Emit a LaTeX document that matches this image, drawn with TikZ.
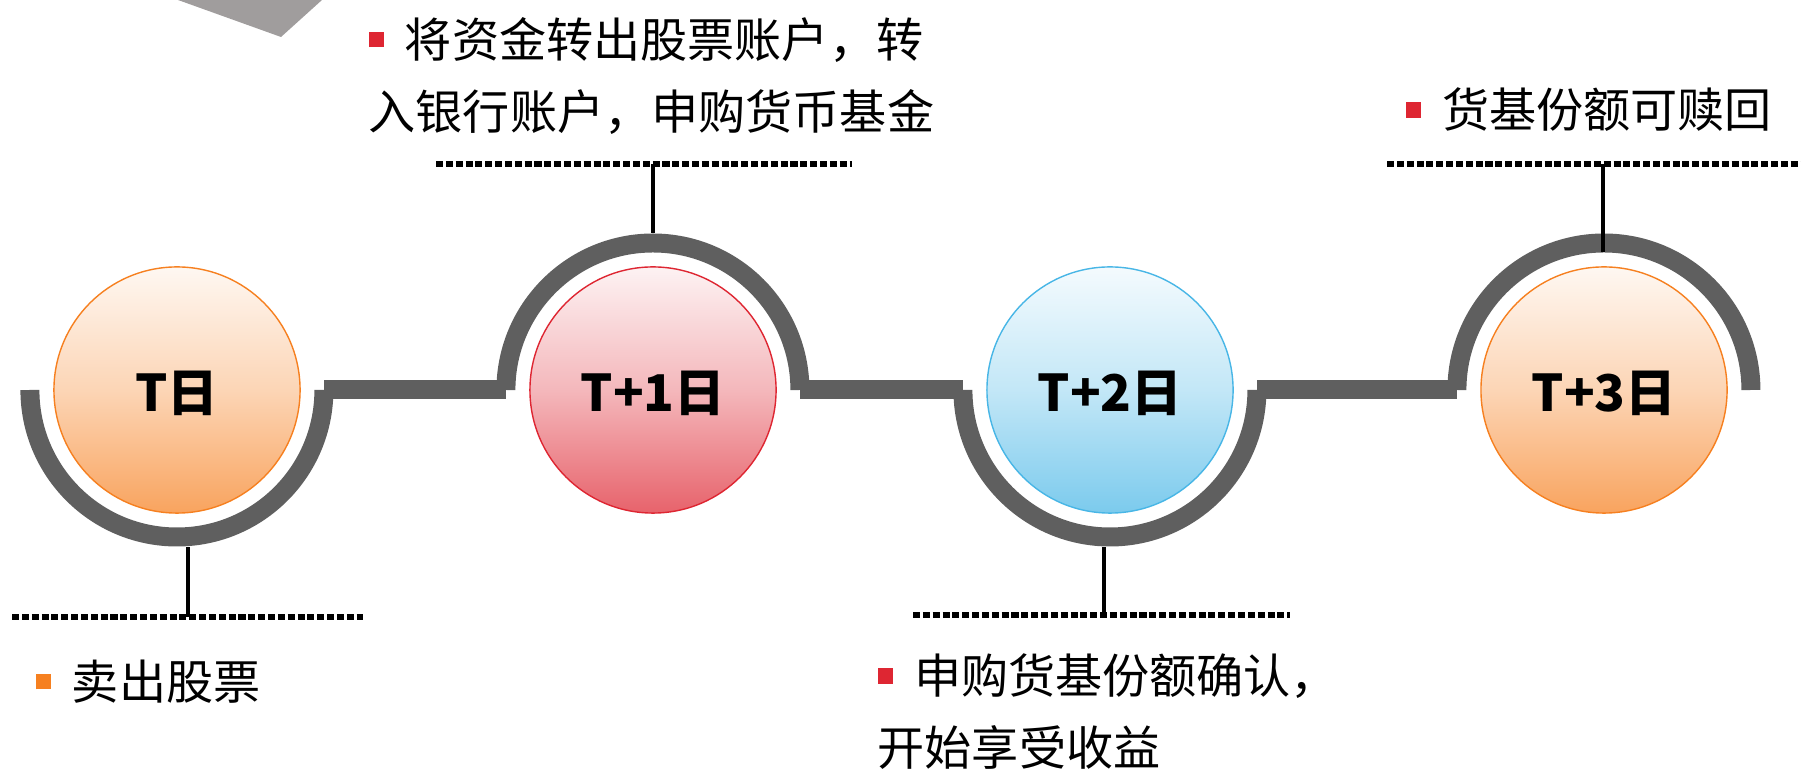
\documentclass[tikz,border=0pt]{standalone}
\usepackage{fontspec}
\newfontfamily\cjk{Noto Sans CJK SC}
\definecolor{ringgray}{RGB}{95,95,95}
\definecolor{boxgray}{RGB}{160,157,157}
\definecolor{orball}{RGB}{246,128,32}
\definecolor{rdball}{RGB}{222,38,50}
\definecolor{blball}{RGB}{72,182,230}
\newcommand\sq[1]{{\color{#1}\rule[0.22em]{0.32em}{0.32em}}\hspace{0.45em}}

\begin{document}
\begin{tikzpicture}[x=0.01cm, y=0.01cm,
    ball/.style={circle, minimum size=2.46cm, inner sep=0pt, draw=#1, line width=0.4pt,
      top color=#1!6, bottom color=#1!72, middle color=#1!33,
      text height=1.25em, text depth=0.04em,
      font=\cjk\bfseries\fontsize{14.4pt}{17pt}\selectfont},
    ring/.style={circle, minimum size=2.94cm, inner sep=0pt, outer sep=0pt},
    band/.style={ringgray, line width=5.4pt},
    stem/.style={black, line width=1.1pt},
    guide/.style={black, line width=1.5pt, dash pattern=on 2pt off 0.8pt},
    note/.style={anchor=west, align=left, inner sep=0pt,
      font=\cjk\fontsize{13.4pt}{20.5pt}\selectfont}]
  \useasboundingbox (0,0) rectangle (1801,773);
  \clip (0,0) rectangle (1801,773);
  \fill[boxgray] (178,773) -- (281,736) -- (322,773) -- cycle;
  \def \Days{
    0/177/T日/orball/0,
    1/653/T+1日/rdball/1,
    2/1110/T+2日/blball/0,
    3/1604/T+3日/orball/1}
  \def \Guides{
    0/188/156/12/363/south/-2.7pt,
    1/653/609/436/852/north/2.7pt,
    2/1104/158/913/1290/south/-2.7pt,
    3/1603/609/1387/1801/north/-2.7pt}
  \foreach \id / \x / \lab / \c / \up in \Days{
    \node[ring] (r\id) at (\x, 383) {};
    \ifnum\up=1
      \draw[band] (r\id.west) arc[start angle=180, end angle=0, radius=147];
    \else
      \draw[band] (r\id.west) arc[start angle=180, end angle=360, radius=147];
    \fi
  }
  \foreach \a / \b in {0/1, 1/2, 2/3}{
    \draw[band] (r\a.east) -- (r\b.west);
  }
  % dotted guides and stems
  \foreach \id / \x / \y / \a / \b / \an / \s in \Guides{
    \coordinate (f\id) at (\x, \y);
    \coordinate (e\id) at ([yshift=\s]r\id.\an);
    \draw[guide] (\a, \y) -- (\b, \y);
    \draw[stem] (f\id) -- (f\id |- e\id);
  }
  \foreach \id / \x / \lab / \c / \up in \Days{
    \node[ball=\c] (d\id) at (\x, 383) {\lab};
  }
  \node[note] (n0) at (35, 91) {\sq{orball}卖出股票};
  \node[note] (n1) at (368, 697) {\sq{rdball}将资金转出股票账户，转\\入银行账户，申购货币基金};
  \node[note] (n2) at (877, 61) {\sq{rdball}申购货基份额确认，\\开始享受收益};
  \node[note] (n3) at (1405, 663) {\sq{rdball}货基份额可赎回};
\end{tikzpicture}
\end{document}
